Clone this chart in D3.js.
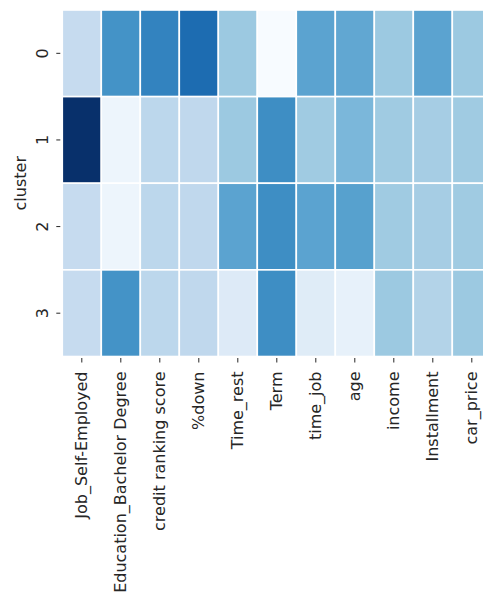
<!DOCTYPE html>
<html>
<head>
<meta charset="utf-8">
<script src="https://cdn.jsdelivr.net/npm/d3@7"></script>
<style>
  html, body { margin: 0; padding: 0; background: #fff; }
  svg { display: block; }
  text { font-family: "DejaVu Sans", sans-serif; fill: #262626; }
</style>
</head>
<body>
<svg id="chart" width="483" height="594"></svg>
<script>
// Cluster profile heatmap (normalised feature means per cluster)
const clusters = ["0", "1", "2", "3"];
const features = ["Job_Self-Employed", "Education_Bachelor Degree", "credit ranking score",
  "%down", "Time_rest", "Term", "time_job", "age", "income", "Installment", "car_price"];

const cluster0 = [0.25, 0.62, 0.68, 0.77, 0.38, 0.00, 0.55, 0.53, 0.38, 0.55, 0.38];
const cluster1 = [1.00, 0.05, 0.28, 0.27, 0.38, 0.64, 0.37, 0.46, 0.37, 0.35, 0.37];
const cluster2 = [0.25, 0.05, 0.28, 0.27, 0.55, 0.64, 0.55, 0.56, 0.37, 0.35, 0.37];
const cluster3 = [0.25, 0.62, 0.28, 0.27, 0.13, 0.64, 0.12, 0.08, 0.38, 0.31, 0.38];
const values = [cluster0, cluster1, cluster2, cluster3];

// ColorBrewer Blues, linearly interpolated
const blues = ["#f7fbff", "#deebf7", "#c6dbef", "#9ecae1", "#6baed6",
  "#4292c6", "#2171b5", "#08519c", "#08306b"];
const color = d3.scaleLinear()
  .domain(blues.map((_, i) => i / (blues.length - 1)))
  .range(blues)
  .interpolate(d3.interpolateRgb);

const svg = d3.select("#chart");
const plotLeft = 62.3, cellW = 39.0, plotTop = 10, plotBottom = 356.5;
const fontSize = "16px";

const x = d3.scaleBand().domain(features).range([plotLeft, plotLeft + cellW * features.length]);
const y = d3.scaleBand().domain(clusters).range([plotTop, plotBottom]);

const cells = [];
clusters.forEach((c, i) => features.forEach((f, j) => cells.push({ c, f, v: values[i][j] })));

svg.append("g").selectAll("rect").data(cells).join("rect")
  .attr("x", d => x(d.f))
  .attr("y", d => y(d.c))
  .attr("width", x.bandwidth())
  .attr("height", y.bandwidth())
  .attr("fill", d => color(d.v))
  .attr("stroke", "#fff")
  .attr("stroke-width", 1.6);

// y axis
const yAxis = svg.append("g")
  .attr("transform", `translate(${plotLeft},0)`)
  .call(d3.axisLeft(y).tickSize(5).tickPadding(0));
yAxis.select(".domain").remove();
yAxis.selectAll(".tick line").attr("x2", -6).attr("x1", -2).attr("stroke", "#262626").attr("stroke-width", 1);
yAxis.selectAll(".tick text")
  .attr("x", 0)
  .attr("text-anchor", "middle")
  .attr("transform", "translate(-20,0) rotate(-90)")
  .attr("dy", "0.35em")
  .style("font-size", fontSize);

// x axis
const xAxis = svg.append("g")
  .attr("transform", `translate(0,${plotBottom})`)
  .call(d3.axisBottom(x).tickSize(5));
xAxis.select(".domain").remove();
xAxis.selectAll(".tick line").attr("y1", 1.5).attr("y2", 6).attr("stroke", "#262626").attr("stroke-width", 1);
xAxis.selectAll(".tick text")
  .attr("transform", "rotate(-90)")
  .attr("text-anchor", "end")
  .attr("x", -15)
  .attr("y", 0)
  .attr("dy", "0.35em")
  .style("font-size", fontSize);

svg.append("text")
  .attr("transform", `translate(20,${(plotTop + plotBottom) / 2}) rotate(-90)`)
  .attr("text-anchor", "middle")
  .attr("dy", "0.35em")
  .style("font-size", fontSize)
  .text("cluster");
</script>
</body>
</html>
